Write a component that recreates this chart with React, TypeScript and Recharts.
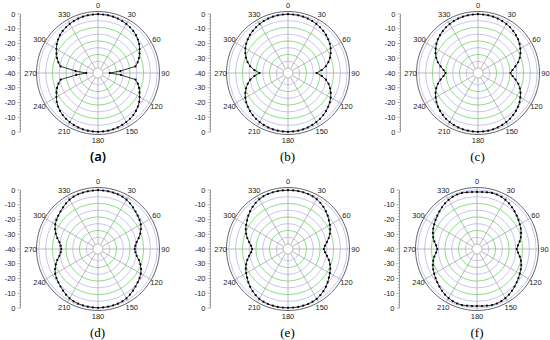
import {
  RadarChart, Radar, PolarGrid, PolarAngleAxis, PolarRadiusAxis, LineChart, YAxis,
} from 'recharts'

// measured angle, degrees clockwise from the top
const ANGLES = [
  0, 5, 10, 15, 20, 25, 30, 35, 40, 45, 50, 55, 60, 65, 70, 75, 80, 85,
  90, 95, 100, 105, 110, 115, 120, 125, 130, 135, 140, 145, 150, 155, 160, 165, 170, 175,
  180, 185, 190, 195, 200, 205, 210, 215, 220, 225, 230, 235, 240, 245, 250, 255, 260, 265,
  270, 275, 280, 285, 290, 295, 300, 305, 310, 315, 320, 325, 330, 335, 340, 345, 350, 355,
]

// normalised gain in dB, one value per angle
const PATTERN_A = [
  0, -0.1, -0.2, -0.4, -0.7, -1.1, -1.6, -2.2, -2.9, -3.8, -5.0, -6.3, -8.0, -9.6, -11.3, -13.2, -15.5, -27,
  -35, -26.5, -15.4, -13.1, -11.2, -9.6, -8.0, -6.3, -5.0, -3.8, -2.9, -2.2, -1.6, -1.1, -0.7, -0.4, -0.2, -0.1,
  0, -0.1, -0.2, -0.4, -0.7, -1.1, -1.6, -2.2, -2.9, -3.8, -5.0, -6.3, -8.0, -9.6, -11.3, -13.3, -15.6, -27.5,
  -35, -27, -15.5, -13.2, -11.3, -9.6, -8.0, -6.3, -5.0, -3.8, -2.9, -2.2, -1.6, -1.1, -0.7, -0.4, -0.2, -0.1,
]
const PATTERN_B = [
  0, -0.1, -0.2, -0.4, -0.7, -1.1, -1.6, -2.2, -2.9, -3.7, -4.7, -5.8, -7.1, -8.7, -10.5, -12.6, -15.2, -18.6,
  -22.5, -18.5, -15.1, -12.5, -10.4, -8.6, -7.1, -5.8, -4.7, -3.7, -2.9, -2.2, -1.6, -1.1, -0.7, -0.4, -0.2, -0.1,
  0, -0.1, -0.2, -0.4, -0.7, -1.1, -1.6, -2.2, -2.9, -3.7, -4.7, -5.8, -7.1, -8.7, -10.5, -12.7, -15.3, -18.7,
  -22.6, -18.6, -15.2, -12.6, -10.5, -8.7, -7.1, -5.8, -4.7, -3.7, -2.9, -2.2, -1.6, -1.1, -0.7, -0.4, -0.2, -0.1,
]
const PATTERN_C = [
  0, -0.1, -0.2, -0.4, -0.7, -1.1, -1.6, -2.2, -3.0, -3.8, -4.8, -6.0, -7.4, -8.9, -10.7, -12.8, -15.5, -18.0,
  -19.6, -17.9, -15.4, -12.7, -10.6, -8.8, -7.4, -6.0, -4.8, -3.8, -3.0, -2.2, -1.6, -1.1, -0.7, -0.4, -0.2, -0.1,
  0, -0.1, -0.2, -0.4, -0.7, -1.1, -1.6, -2.2, -3.0, -3.8, -4.8, -6.0, -7.4, -8.9, -10.7, -12.8, -15.5, -18.0,
  -19.6, -18.0, -15.5, -12.8, -10.7, -8.9, -7.4, -6.0, -4.8, -3.8, -3.0, -2.2, -1.6, -1.1, -0.7, -0.4, -0.2, -0.1,
]
const PATTERN_D = [
  0, -0.1, -0.2, -0.3, -0.5, -0.8, -1.4, -2.3, -3.3, -4.3, -5.2, -6.0, -7.0, -8.5, -10.3, -12.4, -14.6, -15.9,
  -16.4, -15.8, -14.5, -12.3, -10.2, -8.4, -7.0, -6.0, -5.2, -4.3, -3.3, -2.3, -1.4, -0.8, -0.5, -0.3, -0.2, -0.1,
  0, -0.1, -0.2, -0.3, -0.5, -0.8, -1.4, -2.3, -3.3, -4.3, -5.2, -6.0, -7.0, -8.5, -10.3, -12.4, -14.6, -15.9,
  -16.4, -15.9, -14.6, -12.4, -10.3, -8.5, -7.0, -6.0, -5.2, -4.3, -3.3, -2.3, -1.4, -0.8, -0.5, -0.3, -0.2, -0.1,
]
const PATTERN_E = [
  0, 0, 0, -0.1, -0.2, -0.5, -1.0, -1.8, -2.8, -3.9, -5.2, -6.6, -7.8, -9.1, -10.6, -12.4, -14.4, -16.2,
  -17.1, -16.1, -14.3, -12.3, -10.5, -9.0, -7.8, -6.6, -5.2, -3.9, -2.8, -1.8, -1.0, -0.5, -0.2, -0.1, 0, 0,
  0, 0, 0, -0.1, -0.2, -0.5, -1.0, -1.8, -2.8, -3.9, -5.2, -6.6, -7.8, -9.1, -10.6, -12.4, -14.4, -16.2,
  -17.1, -16.2, -14.4, -12.4, -10.6, -9.1, -7.8, -6.6, -5.2, -3.9, -2.8, -1.8, -1.0, -0.5, -0.2, -0.1, 0, 0,
]
const PATTERN_F = [
  -1.3, -1.2, -0.9, -0.6, -0.6, -0.9, -1.5, -2.3, -3.2, -4.2, -5.2, -6.1, -7.0, -7.8, -8.8, -10.0, -11.5, -13.2,
  -14.2, -13.1, -11.4, -9.9, -8.7, -7.8, -7.0, -6.1, -5.2, -4.2, -3.2, -2.3, -1.5, -0.9, -0.6, -0.6, -0.9, -1.2,
  -1.3, -1.2, -0.9, -0.6, -0.6, -0.9, -1.5, -2.3, -3.2, -4.2, -5.2, -6.1, -7.0, -7.8, -8.8, -10.0, -11.5, -13.2,
  -14.2, -13.2, -11.5, -10.0, -8.8, -7.8, -7.0, -6.1, -5.2, -4.2, -3.2, -2.3, -1.5, -0.9, -0.6, -0.6, -0.9, -1.2,
]

const ANGLE_LABELS = [0, 30, 60, 90, 120, 150, 180, 210, 240, 270, 300, 330]
const RING_MAJOR = [-10, -20, -30]
const RING_MINOR = [-35, -25, -15, -5, 0]
// side scale: -40 at centre, 0 at both ends
const SIDE_TICKS = [
  -40, -38, -36, -34, -32, -30, -28, -26, -24, -22, -20, -18, -16, -14, -12, -10, -8, -6, -4, -2, 0,
  2, 4, 6, 8, 10, 12, 14, 16, 18, 20, 22, 24, 26, 28, 30, 32, 34, 36, 38, 40,
]

const ROWS = ANGLES.map((angle, i) => ({
  angle,
  a: PATTERN_A[i], b: PATTERN_B[i], c: PATTERN_C[i],
  d: PATTERN_D[i], e: PATTERN_E[i], f: PATTERN_F[i],
}))
const SIDE_ROWS = SIDE_TICKS.map(v => ({ v }))

const PANELS = [
  { key: 'a', label: '(a)', cx: 98, cy: 73, sans: true },
  { key: 'b', label: '(b)', cx: 287.5, cy: 73 },
  { key: 'c', label: '(c)', cx: 477.5, cy: 73 },
  { key: 'd', label: '(d)', cx: 97.5, cy: 249 },
  { key: 'e', label: '(e)', cx: 287.5, cy: 249 },
  { key: 'f', label: '(f)', cx: 477, cy: 249 },
]

const DB_MIN = -40
const DB_MAX = 1.7
const W = 190
const H = 160
const PCX = 95
const PCY = 80
const HOLE = 5
const OUTER = 61.5
const SIDE_HALF = 59
const AXIS_X = PCX - 77.5
const LABEL_R = 67.5
const FONT = '"Liberation Sans", Arial, sans-serif'

const rOf = (v: number) => HOLE + (OUTER - HOLE) * (v - DB_MIN) / (DB_MAX - DB_MIN)
const SPOKES = ANGLE_LABELS.map(a => 90 - a)

function AngleTick(props: any) {
  const deg = Number(props.payload?.value)
  if (deg % 30 !== 0) return <g />
  const rad = (deg * Math.PI) / 180
  return (
    <text
      x={PCX + LABEL_R * Math.sin(rad)} y={PCY - LABEL_R * Math.cos(rad)}
      dy="0.35em" textAnchor="middle" fontSize={7.5} fill="#222" fontFamily={FONT}
    >
      {deg}
    </text>
  )
}

function SideTick(props: any) {
  const { x, y, payload } = props
  const v = Number(payload.value)
  const major = v % 10 === 0
  const ax = x + 5
  return (
    <g>
      <line x1={ax - (major ? 3 : 1.6)} x2={ax} y1={y} y2={y} stroke="#888" strokeWidth={0.7} />
      {major && (
        <text x={x} y={y} dy="0.35em" textAnchor="end" fontSize={7.5} fill="#222" fontFamily={FONT}>
          {Math.abs(v) - 40}
        </text>
      )}
    </g>
  )
}

function PatternDot(props: any) {
  const { cx, cy, index } = props
  if (cx == null || cy == null) return <g key={index} />
  return <circle key={index} cx={cx} cy={cy} r={1.1} fill="#000" />
}

function Panel({ p }: { p: typeof PANELS[number] }) {
  return (
    <div style={{ position: 'absolute', left: p.cx - PCX, top: p.cy - PCY, width: W, height: H + 20 }}>
      <div style={{ position: 'absolute', left: 0, top: 0 }}>
        <LineChart
          width={AXIS_X + 6} height={H} data={SIDE_ROWS}
          margin={{ top: PCY - SIDE_HALF, bottom: H - PCY - SIDE_HALF, left: 0, right: 0 }}
        >
          <YAxis
            type="number" domain={[-40, 40]} ticks={SIDE_TICKS} interval={0} allowDataOverflow
            width={AXIS_X} tickSize={3} tickMargin={2} tickLine={false}
            axisLine={{ stroke: '#888', strokeWidth: 0.8 }}
            tick={(t: any) => <SideTick {...t} />}
          />
        </LineChart>
      </div>
      <div style={{ position: 'absolute', left: 0, top: 0 }}>
        <RadarChart
          width={W} height={H} cx={PCX} cy={PCY} innerRadius={HOLE} outerRadius={OUTER}
          data={ROWS} margin={{ top: 0, right: 0, bottom: 0, left: 0 }}
        >
          <PolarRadiusAxis
            type="number" domain={[DB_MIN, DB_MAX]} allowDataOverflow
            tick={false} axisLine={false}
          />
          <PolarGrid gridType="circle" radialLines={false} polarAngles={[]}
            polarRadius={RING_MINOR.map(rOf)} stroke="#b8b8ee" strokeWidth={0.8} />
          <PolarGrid gridType="circle" radialLines={false} polarAngles={[]}
            polarRadius={RING_MAJOR.map(rOf)} stroke="#7fd97f" strokeWidth={0.9} />
          <PolarGrid gridType="circle" polarAngles={SPOKES}
            polarRadius={[rOf(DB_MIN)]} stroke="#a8a8a8" strokeWidth={0.8} />
          <PolarAngleAxis
            dataKey="angle" tickLine={false}
            axisLine={{ stroke: '#555', strokeWidth: 0.9 }}
            tick={(t: any) => <AngleTick {...t} />}
          />
          <Radar
            dataKey={p.key} stroke="#222" strokeWidth={0.9} fill="none" fillOpacity={0}
            dot={(d: any) => <PatternDot {...d} />}
            isAnimationActive={false}
          />
        </RadarChart>
      </div>
      <div style={{
        position: 'absolute', left: 0, width: W, top: PCY + 76, lineHeight: '15px',
        textAlign: 'center', fontSize: 13, color: '#000',
        fontFamily: p.sans ? '"Noto Sans", sans-serif' : '"Liberation Serif", serif',
        fontWeight: p.sans ? 600 : 400,
      }}>
        {p.label}
      </div>
    </div>
  )
}

export default function App() {
  return (
    <div style={{ position: 'absolute', left: 0, top: 0, width: 550, height: 340, background: '#fff', overflow: 'hidden' }}>
      {PANELS.map(p => <Panel key={p.key} p={p} />)}
    </div>
  )
}
